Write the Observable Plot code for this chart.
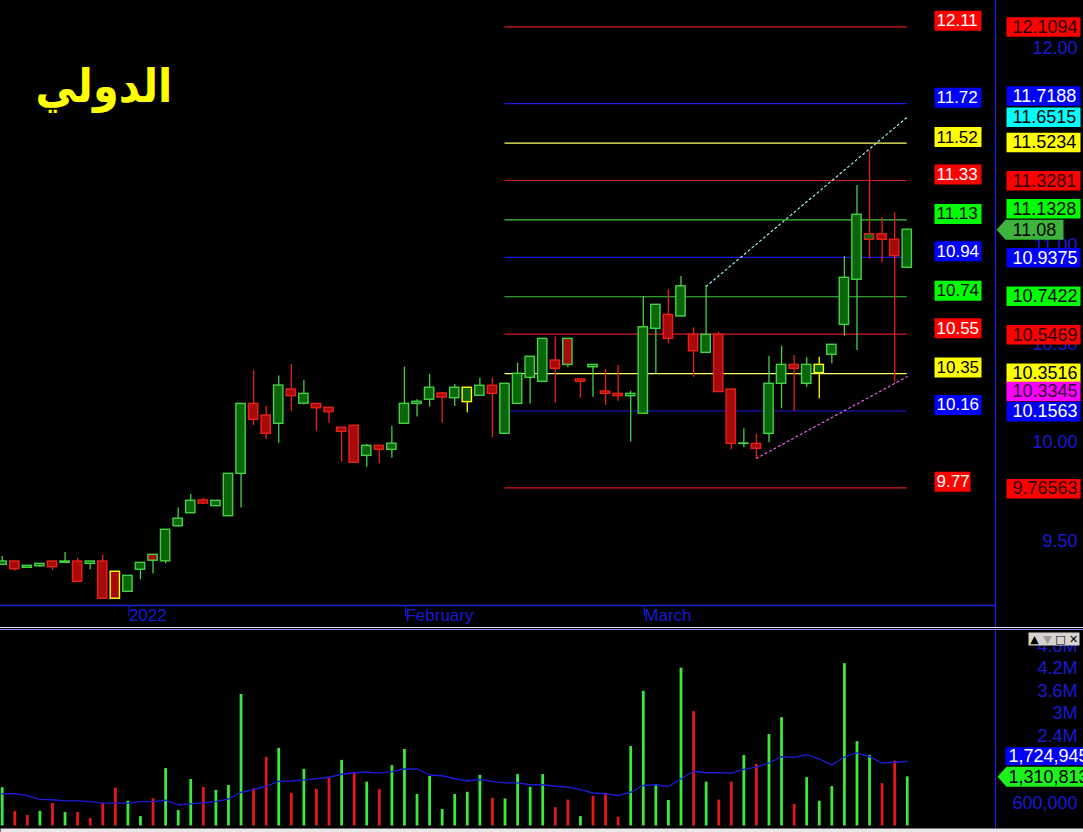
<!DOCTYPE html>
<html>
<head>
<meta charset="utf-8">
<script src="https://cdn.jsdelivr.net/npm/d3@7"></script>
<script src="https://cdn.jsdelivr.net/npm/@observablehq/plot@0.6"></script>
<style>
html, body { margin: 0; padding: 0; background: #000; }
#chart { width: 1083px; height: 832px; overflow: hidden; background: #000; }
#chart svg { display: block; }
.sep { height: 1px; background: #e4e4f0; }
.sep2 { height: 1px; background: #000; }
.sep3 { height: 1px; background: #8c8cff; }
</style>
</head>
<body>
<div id="chart"></div>
<script>
// ---------------- DATA ----------------
const title = "الدولي";
const opens  = [9.379,9.396,9.364,9.372,9.396,9.389,9.396,9.384,9.396,9.344,9.242,9.354,9.430,9.397,9.575,9.641,9.706,9.677,9.626,9.841,10.196,10.137,10.095,10.269,10.197,10.196,10.176,10.075,10.085,9.932,9.983,9.963,10.095,10.196,10.217,10.249,10.225,10.205,10.237,10.288,10.044,10.196,10.328,10.308,10.416,10.526,10.320,10.382,10.259,10.247,10.235,10.146,10.577,10.648,10.640,10.547,10.455,10.547,10.269,9.993,9.993,10.044,10.298,10.394,10.298,10.352,10.445,10.597,10.826,11.029,11.057,11.029,10.887];
const highs  = [9.421,9.396,9.374,9.386,9.396,9.442,9.413,9.396,9.428,9.344,9.323,9.389,9.430,9.557,9.667,9.736,9.717,9.704,9.841,10.196,10.365,10.184,10.337,10.396,10.315,10.196,10.176,10.075,10.085,9.990,9.983,10.081,10.382,10.217,10.345,10.255,10.294,10.278,10.326,10.326,10.298,10.403,10.435,10.526,10.535,10.526,10.320,10.394,10.369,10.391,10.260,10.741,10.699,10.775,10.843,10.582,10.797,10.560,10.269,10.070,10.041,10.438,10.489,10.442,10.430,10.433,10.496,10.944,11.305,11.482,11.141,11.166,11.080];
const lows   = [9.379,9.347,9.364,9.367,9.350,9.389,9.293,9.354,9.207,9.207,9.242,9.303,9.332,9.384,9.570,9.641,9.684,9.677,9.626,9.667,10.086,10.015,9.996,10.157,10.191,10.057,10.098,9.900,9.897,9.875,9.892,9.920,10.095,10.129,10.179,10.098,10.183,10.151,10.237,10.024,10.044,10.196,10.196,10.308,10.200,10.379,10.225,10.230,10.188,10.210,10.002,10.146,10.349,10.501,10.640,10.331,10.455,10.256,9.963,9.973,9.917,9.999,10.171,10.157,10.281,10.222,10.400,10.540,10.467,10.932,10.912,10.306,10.887];
const closes = [9.396,9.357,9.374,9.384,9.367,9.396,9.293,9.396,9.207,9.207,9.323,9.389,9.400,9.557,9.613,9.704,9.690,9.704,9.841,10.196,10.115,10.044,10.289,10.235,10.247,10.174,10.154,10.054,9.897,9.983,9.963,9.994,10.196,10.207,10.278,10.228,10.278,10.278,10.288,10.247,10.298,10.349,10.435,10.526,10.374,10.394,10.308,10.394,10.247,10.235,10.247,10.585,10.699,10.526,10.793,10.463,10.547,10.256,9.993,9.995,9.968,10.298,10.394,10.374,10.394,10.394,10.496,10.836,11.156,11.057,11.029,10.946,11.080];
const signalBars = [9, 37, 65];

// volume in millions
const volumes = [1.02,0.39,0.28,0.39,0.60,0.36,0.36,0.20,0.60,1.01,0.66,0.25,0.73,1.53,0.41,1.24,1.03,0.95,1.08,3.51,0.99,1.83,2.07,0.87,1.51,0.98,1.29,1.75,1.43,
                 1.17,0.97,1.61,2.04,0.84,1.32,0.44,0.84,0.90,1.35,0.74,0.72,1.37,1.03,1.37,0.49,0.69,0.25,0.79,0.87,0.23,2.12,3.59,1.10,0.68,4.21,3.05,1.17,0.69,
                 1.17,1.88,1.64,2.44,2.89,0.57,1.29,0.66,1.05,4.33,2.25,1.88,1.13,1.73,1.310813];
const volumeUp = [1,0,0,1,0,1,0,0,0,0,1,1,0,1,1,1,0,1,1,1,0,0,1,0,1,0,0,1,0,
                  1,0,1,1,1,1,1,1,1,1,0,1,1,1,1,0,0,1,0,0,0,1,1,1,1,1,0,1,0,
                  0,1,0,1,1,0,1,1,1,1,1,1,0,0,1];
const volumeMA = [0.86,0.86,0.81,0.71,0.70,0.67,0.67,0.65,0.61,0.61,0.61,0.65,0.65,0.69,0.56,0.59,0.62,0.65,0.72,0.90,0.97,1.06,1.19,1.20,1.23,1.26,1.30,1.38,1.42,
                  1.44,1.41,1.45,1.52,1.52,1.36,1.34,1.26,1.20,1.24,1.19,1.15,1.15,1.10,1.10,1.06,1.04,0.97,0.88,0.86,0.81,0.90,1.08,1.10,1.05,1.26,1.46,1.42,1.42,
                  1.41,1.51,1.57,1.68,1.85,1.83,1.90,1.79,1.63,1.84,1.95,1.85,1.68,1.70,1.724945];
const lastVolumeText = "1,310,813";
const lastVolumeMAText = "1,724,945";

const xTickIdx = [10, 32, 51];
const xTickLabels = ["2022", "February", "March"];
const priceTicks = [12, 11, 10.5, 10, 9.5];
const volTicks = [4.8, 4.2, 3.6, 3, 2.4, 0.6];
const volTickLabels = ["4.8M", "4.2M", "3.6M", "3M", "2.4M", "600,000"];

const levelValues = [12.11, 11.72, 11.52, 11.33, 11.13, 10.94, 10.74, 10.55, 10.35, 10.16, 9.77];
const levelKinds  = ["red","blue","yellow","red","green","blue","green","red","yellow","blue","red"];
const levelFromIdx = 40, levelToIdx = 72;

const tagValues = [12.1094, 11.7188, 11.6515, 11.5234, 11.3281, 11.1328, 10.9375, 10.7422, 10.5469, 10.3516, 10.3345, 10.1563, 9.76563];
const tagKinds  = ["red","blue","cyan","yellow","red","green","blue","green","red","yellow","magenta","blue","red"];

const upperTrendIdx = [56, 72], upperTrendPrice = [10.792, 11.6515];
const lowerTrendIdx = [60, 72], lowerTrendPrice = [9.919, 10.3345];

// ---------------- STYLE / LAYOUT ----------------
const W = 1083, PRICE_H = 627, VOL_H = 202;
const xDomain = [-0.135, 79.02];
const priceDomain = [9.1726, 12.2437];
const volDomain = [0, 5.2133];
const axisBlue = "#1a1ad2";
const lineBlue = "#2020e6";
const numFont = "'Liberation Sans', Arial, sans-serif";
const lineColor = {red: "#d41c1c", blue: "#1a1ae0", yellow: "#ffff66", green: "#3cc83c"};
const boxColor = {red: "#ff0000", blue: "#0000ff", yellow: "#ffff00", green: "#00ff00", cyan: "#00ffff", magenta: "#ff00ff"};
const levelTextColor = {red: "#ffffff", blue: "#ffffff", yellow: "#000000", green: "#000000"};
const tagTextColor = {red: "#2a0000", blue: "#ffffff", yellow: "#000000", green: "#000000", cyan: "#000000", magenta: "#2a002a"};
const tagNudge = {"11.7188": -8, "11.1328": -10.5, "10.3345": 15};
const C = {upFill: "#0a660a", downFill: "#a80a0a", upLine: "#45d045", downLine: "#e8201a", signal: "#ffff00",
           volUp: "#3ce83c", volDown: "#e51818", ma: "#1c1cd8", lastTag: "#3db53d"};

function boxSymbol(x0, x1, h) {
  return {draw(ctx) { ctx.moveTo(x0, -h / 2); ctx.lineTo(x1, -h / 2); ctx.lineTo(x1, h / 2); ctx.lineTo(x0, h / 2); ctx.closePath(); }};
}
function arrowSymbol(tip, x0, x1, h) {
  return {draw(ctx) { ctx.moveTo(tip, 0); ctx.lineTo(x0, -h / 2); ctx.lineTo(x1, -h / 2); ctx.lineTo(x1, h / 2); ctx.lineTo(x0, h / 2); ctx.closePath(); }};
}
const atRight = () => xDomain[1];

// ---------------- derived tables ----------------
const candles = opens.map((o, i) => {
  const c = closes[i];
  const prev = i ? closes[i - 1] : o;
  const sig = signalBars.includes(i);
  return {
    i, o, h: highs[i], l: lows[i], c,
    fill: c >= o ? C.upFill : C.downFill,
    line: sig ? C.signal : (c > prev || (c === prev && c >= o) ? C.upLine : C.downLine)
  };
});
const levels = levelValues.map((v, k) => ({v, kind: levelKinds[k], label: v.toFixed(2)}));
const tags = tagValues.map((v, k) => ({v, kind: tagKinds[k], label: String(v), nudge: tagNudge[String(v)] || 0}));
const lastClose = closes[closes.length - 1];

// ---------------- PRICE PANEL ----------------
const levelMarks = [];
for (const d of levels) {
  const w = d.label.length === 5 ? 47 : 36;
  levelMarks.push(Plot.dot([d], {x: atRight, y: "v", dy: -6, r: 10, symbol: boxSymbol(-61, -61 + w, 20), fill: boxColor[d.kind], stroke: "none"}));
  levelMarks.push(Plot.text([d], {x: atRight, y: "v", dy: -6, dx: -59, text: "label", textAnchor: "start", fill: levelTextColor[d.kind], fontSize: 17, fontFamily: numFont}));
}
const tagMarks = [];
for (const d of tags) {
  tagMarks.push(Plot.dot([d], {x: atRight, y: "v", dy: d.nudge, r: 10, symbol: boxSymbol(11, 85, 19.5), fill: boxColor[d.kind], stroke: "none"}));
  tagMarks.push(Plot.text([d], {x: atRight, y: "v", dy: d.nudge, dx: 17, text: "label", textAnchor: "start", fill: tagTextColor[d.kind], fontSize: 18, fontFamily: numFont}));
}

const price = Plot.plot({
  width: W, height: PRICE_H,
  marginLeft: 0, marginRight: W - 995, marginTop: 0, marginBottom: PRICE_H - 605,
  style: {background: "#000", color: axisBlue, fontFamily: numFont, overflow: "visible"},
  x: {domain: xDomain},
  y: {domain: priceDomain},
  marks: [
    Plot.ruleX([xDomain[1]], {stroke: lineBlue, strokeWidth: 1.2, insetBottom: -22}),
    Plot.ruleY([priceDomain[0]], {stroke: lineBlue, strokeWidth: 1.5}),
    Plot.axisX({anchor: "bottom", ticks: xTickIdx, tickFormat: d => xTickLabels[xTickIdx.indexOf(d)],
      tickSize: 11, tickPadding: -8, textAnchor: "start", dx: 1, color: axisBlue, fontSize: 17, fontFamily: numFont}),
    Plot.axisY({anchor: "right", ticks: priceTicks, tickFormat: d => d.toFixed(2), tickSize: 0, tickPadding: 0,
      textAnchor: "end", dx: 82, color: axisBlue, fontSize: 18, fontFamily: numFont}),
    Plot.text([title], {text: d => d, frameAnchor: "top-left", dx: 35, dy: 69, lineAnchor: "top", textAnchor: "start",
      fontSize: 46, fontWeight: "bold", fontFamily: "'DejaVu Sans Condensed', 'DejaVu Sans', sans-serif", fill: "#ffff00"}),
    Plot.ruleY(levels, {y: "v", x1: () => levelFromIdx, x2: () => levelToIdx, stroke: d => lineColor[d.kind], strokeWidth: 1.2}),
    Plot.line(upperTrendIdx.map((x, k) => ({x, p: upperTrendPrice[k]})), {x: "x", y: "p", stroke: "#a8ffff", strokeWidth: 1.1, strokeDasharray: "2,3"}),
    Plot.line(lowerTrendIdx.map((x, k) => ({x, p: lowerTrendPrice[k]})), {x: "x", y: "p", stroke: "#ff66ff", strokeWidth: 1.1, strokeDasharray: "2,3"}),
    Plot.ruleX(candles, {x: "i", y1: "l", y2: "h", stroke: "line", strokeWidth: 1.3}),
    Plot.rect(candles, {x1: d => d.i - 0.37, x2: d => d.i + 0.37, y1: "o", y2: "c", fill: "fill", stroke: "line", strokeWidth: 1.4}),
    ...levelMarks,
    ...tagMarks,
    Plot.dot([lastClose], {x: atRight, y: d => d, r: 10, symbol: arrowSymbol(1, 10, 68, 20), fill: C.lastTag, stroke: "none"}),
    Plot.text([lastClose], {x: atRight, y: d => d, dx: 17, text: d => d.toFixed(2), textAnchor: "start", fill: "#000", fontSize: 18, fontFamily: numFont})
  ]
});

// ---------------- VOLUME PANEL ----------------
const vols = volumes.map((v, i) => ({i, v, up: volumeUp[i] === 1}));
const lastVol = volumes[volumes.length - 1];
const lastMA = volumeMA[volumeMA.length - 1];
const buttonGlyphs = [["▲", 39, "#000"], ["▼", 52, "#9a9a9a"], ["□", 65, "#000"], ["✕", 78, "#000"]];

const volume = Plot.plot({
  width: W, height: VOL_H,
  marginLeft: 0, marginRight: W - 995, marginTop: 0, marginBottom: VOL_H - 195.5,
  style: {background: "#000", color: axisBlue, fontFamily: numFont, overflow: "visible"},
  x: {domain: xDomain, axis: null},
  y: {domain: volDomain},
  marks: [
    Plot.ruleX([xDomain[1]], {stroke: lineBlue, strokeWidth: 1.2, insetBottom: -3}),
    Plot.axisY({anchor: "right", ticks: volTicks, tickFormat: d => volTickLabels[volTicks.indexOf(d)], tickSize: 0, tickPadding: 0,
      textAnchor: "end", dx: 82, color: axisBlue, fontSize: 18, fontFamily: numFont}),
    Plot.ruleX(vols, {x: "i", y1: 0, y2: "v", stroke: d => d.up ? C.volUp : C.volDown, strokeWidth: 2.8}),
    Plot.line(volumeMA, {x: (d, i) => i, y: d => d, stroke: C.ma, strokeWidth: 1.3}),
    Plot.dot([lastMA], {x: atRight, y: d => d, dy: -5, r: 10, symbol: boxSymbol(10, 90, 18), fill: "#0000ff", stroke: "none"}),
    Plot.text([lastMA], {x: atRight, y: d => d, dy: -5, dx: 13, text: () => lastVolumeMAText, textAnchor: "start", fill: "#fff", fontSize: 18, fontFamily: numFont}),
    Plot.dot([lastVol], {x: atRight, y: d => d, r: 10, symbol: arrowSymbol(2, 11, 90, 20), fill: "#1ef01e", stroke: "none"}),
    Plot.text([lastVol], {x: atRight, y: d => d, dx: 13, text: () => lastVolumeText, textAnchor: "start", fill: "#000", fontSize: 18, fontFamily: numFont}),
    Plot.frame({fill: "#d6d3ce", stroke: "none", insetLeft: 1028, insetRight: -84, insetTop: 2, insetBottom: 195.5 - 15}),
    ...buttonGlyphs.map(([g, dx, col]) => Plot.text([g], {text: d => d, frameAnchor: "top-left", dx: 995 + dx, dy: 8.5,
      textAnchor: "middle", lineAnchor: "middle", fill: col, fontSize: 11, fontFamily: "'DejaVu Sans', sans-serif", fontWeight: "bold"})),
    Plot.frame({fill: "#e9e9e9", stroke: "none", insetTop: 198, insetBottom: -6.5, insetRight: -88})
  ]
});

const root = document.getElementById("chart");
root.appendChild(price);
for (const cls of ["sep", "sep2", "sep3"]) { const d = document.createElement("div"); d.className = cls; root.appendChild(d); }
root.appendChild(volume);
</script>
</body>
</html>
